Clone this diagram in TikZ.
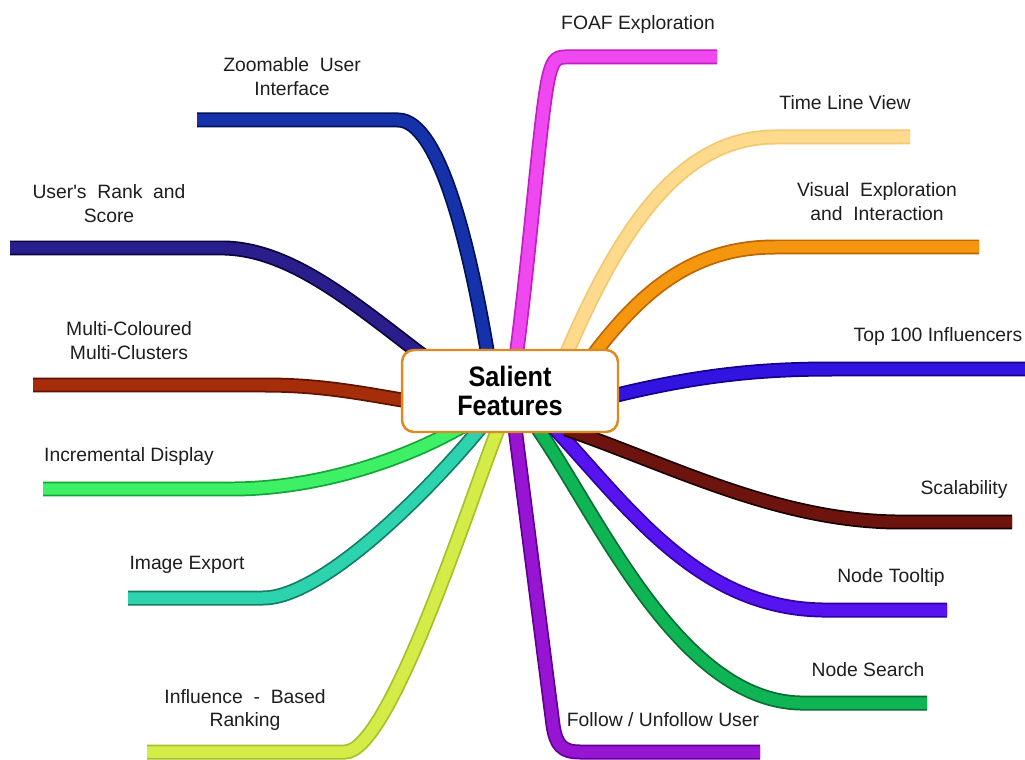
\documentclass[tikz,border=0pt]{standalone}
\usepackage{fontspec}
\setmainfont{Liberation Sans}
\usetikzlibrary{calc}

% branch colours: fill and edge
\definecolor{zuiC}{RGB}{22,50,170}     \definecolor{zuiE}{RGB}{0,18,90}
\definecolor{rankC}{RGB}{42,30,140}    \definecolor{rankE}{RGB}{10,5,60}
\definecolor{multiC}{RGB}{165,45,10}   \definecolor{multiE}{RGB}{95,18,0}
\definecolor{incrC}{RGB}{62,240,102}   \definecolor{incrE}{RGB}{20,165,55}
\definecolor{imgC}{RGB}{45,210,175}    \definecolor{imgE}{RGB}{20,125,100}
\definecolor{inflC}{RGB}{212,235,72}   \definecolor{inflE}{RGB}{165,192,40}
\definecolor{follC}{RGB}{150,20,210}   \definecolor{follE}{RGB}{98,0,150}
\definecolor{srchC}{RGB}{15,180,85}    \definecolor{srchE}{RGB}{10,110,50}
\definecolor{tipC}{RGB}{85,20,240}     \definecolor{tipE}{RGB}{48,0,160}
\definecolor{scalC}{RGB}{110,20,15}    \definecolor{scalE}{RGB}{25,0,0}
\definecolor{topC}{RGB}{50,20,225}     \definecolor{topE}{RGB}{20,0,140}
\definecolor{visC}{RGB}{245,150,15}    \definecolor{visE}{RGB}{190,100,0}
\definecolor{timeC}{RGB}{253,218,140}  \definecolor{timeE}{RGB}{242,200,115}
\definecolor{foafC}{RGB}{240,72,240}   \definecolor{foafE}{RGB}{196,30,196}
\definecolor{huborange}{RGB}{222,138,32}
\definecolor{labelgray}{RGB}{30,30,30}

\pgfdeclarelayer{bg}
\pgfdeclarelayer{lines}
\pgfsetlayers{bg,lines,main}

\begin{document}
\begin{tikzpicture}[x=0.02cm,y=-0.02cm,
  branch/.style n args={2}{preaction={draw=#2,line width=0.3cm},draw=#1,line width=0.23cm},
  lbl/.style={font=\fontsize{11}{13.6}\selectfont,text=labelgray,align=center,inner sep=0pt},
  hub/.style={draw=huborange,line width=1.4pt,fill=white,rounded corners=0.24cm,
    minimum width=4.32cm,minimum height=1.64cm,align=center,
    font=\fontsize{16}{17}\selectfont\bfseries,text=black}]

\useasboundingbox (0,0) rectangle (1025,760);
\begin{pgfonlayer}{bg}
  \fill[white] (0,0) rectangle (1025,760);
\end{pgfonlayer}

% central topic
\node[hub] (sf) at (510,391) {\scalebox{0.9}[1]{Salient}\\\scalebox{0.9}[1]{Features}};

% free ends of the branches
\coordinate (zui)  at (197,120);
\coordinate (rank) at (10,248);
\coordinate (mult) at (33,385);
\coordinate (incr) at (43,489);
\coordinate (img)  at (128,598);
\coordinate (infl) at (147,752);
\coordinate (foll) at (760,752);
\coordinate (srch) at (927,703);
\coordinate (tip)  at (947,610);
\coordinate (scal) at (1012,522);
\coordinate (top)  at (1025,369);
\coordinate (vis)  at (979,247);
\coordinate (time) at (910,137);
\coordinate (foaf) at (717,57);

\begin{pgfonlayer}{lines}
  \draw[branch={zuiC}{zuiE}] (zui) -- (398,120) .. controls (440,120) and (470,250) .. (487,350)
      -- ([shift={(-20,-26)}]sf.center);
  \draw[branch={rankC}{rankE}] (rank) -- (225,248) .. controls (290,250) and (350,300) .. (418,352)
      -- ([shift={(-80,-30)}]sf.center);
  \draw[branch={multiC}{multiE}] (mult) -- (265,385) .. controls (320,385) and (360,393) .. (402,400)
      -- ([shift={(-95,11)}]sf.center);
  \draw[branch={incrC}{incrE}] (incr) -- (235,489) .. controls (320,488) and (400,460) .. (452,432)
      -- ([shift={(-45,34)}]sf.center);
  \draw[branch={imgC}{imgE}] (img) -- (263,598) .. controls (320,598) and (420,500) .. (477,432)
      -- ([shift={(-23,29)}]sf.center);
  \draw[branch={inflC}{inflE}] (infl) -- (345,752) .. controls (390,752) and (470,500) .. (497,432)
      -- ([shift={(-8,27)}]sf.center);
  \draw[branch={follC}{follE}] (foll) -- (580,752) .. controls (562,752) and (556,745) .. (553,725)
      -- ([shift={(4,29)}]sf.center);
  \draw[branch={srchC}{srchE}] (srch) -- (800,703) .. controls (680,700) and (600,520) .. (540,432)
      -- ([shift={(22,29)}]sf.center);
  \draw[branch={tipC}{tipE}] (tip) -- (822,610) .. controls (700,608) and (630,510) .. (558,432)
      -- ([shift={(38,30)}]sf.center);
  \draw[branch={scalC}{scalE}] (scal) -- (895,522) .. controls (780,520) and (680,470) .. (580,434)
      -- ([shift={(56,38)}]sf.center);
  \draw[branch={topC}{topE}] (top) -- (833,369) .. controls (760,369) and (700,375) .. (617,395)
      -- ([shift={(93,7)}]sf.center);
  \draw[branch={visC}{visE}] (vis) -- (775,247) .. controls (690,247) and (640,295) .. (597,350)
      -- ([shift={(78,-29)}]sf.center);
  \draw[branch={timeC}{timeE}] (time) -- (775,137) .. controls (680,137) and (620,230) .. (568,350)
      -- ([shift={(52,-27)}]sf.center);
  \draw[branch={foafC}{foafE}] (foaf) -- (565,57) .. controls (555,57) and (552,62) .. (548,80)
      .. controls (540,120) and (530,250) .. (517,350) -- ([shift={(5,-26)}]sf.center);
\end{pgfonlayer}

% branch labels
\node[lbl] (zuiL)  at (292,77)  {Zoomable\ \ User\\Interface};
\node[lbl] (rankL) at (109,204) {User\textquotesingle s\ \ Rank\ \ and\\Score};
\node[lbl] (multL) at (129,341) {Multi-Coloured\\Multi-Clusters};
\node[lbl] (incrL) at (129,457) {Incremental Display};
\node[lbl] (imgL)  at (187,565) {Image Export};
\node[lbl] (inflL) at (245,710) {Influence\ \ -\ \ Based\\Ranking};
\node[lbl] (follL) at (663,720) {Follow / Unfollow User};
\node[lbl] (srchL) at (868,670) {Node Search};
\node[lbl] (tipL)  at (891,578) {Node Tooltip};
\node[lbl] (scalL) at (964,490) {Scalability};
\node[lbl] (topL)  at (938,337) {Top 100 Influencers};
\node[lbl] (visL)  at (877,202) {Visual\ \ Exploration\\and\ \ Interaction};
\node[lbl] (timeL) at (845,103) {Time Line View};
\node[lbl] (foafL) at (638,25)  {FOAF Exploration};
\end{tikzpicture}
\end{document}
